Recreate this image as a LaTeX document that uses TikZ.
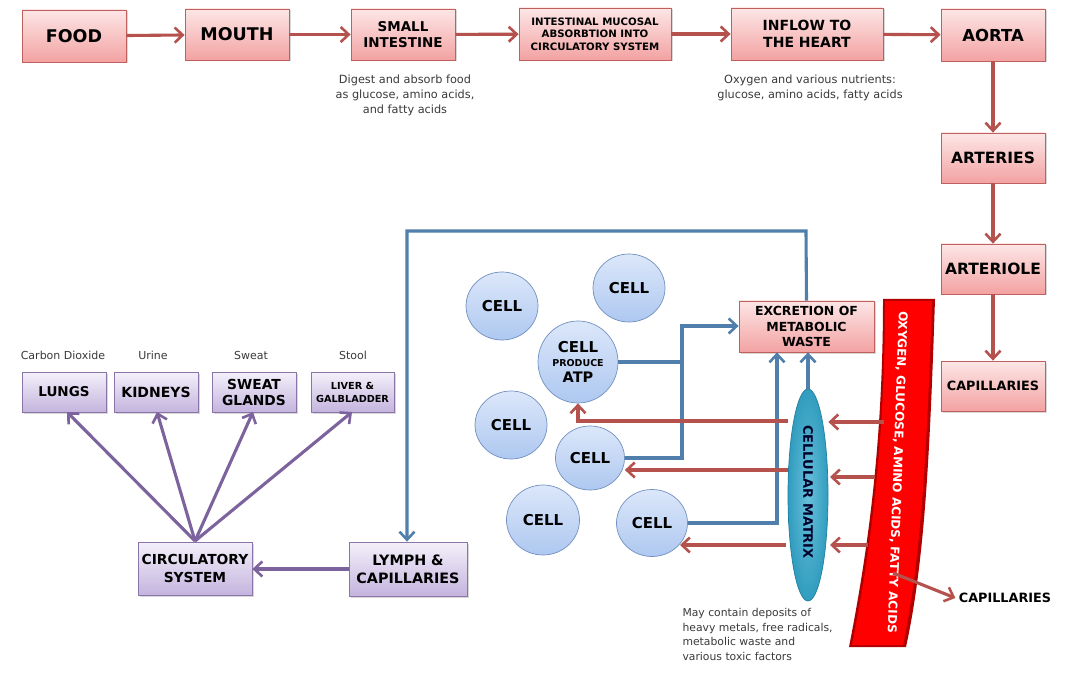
\documentclass[tikz,border=0pt]{standalone}
\usepackage{fontspec}
\setmainfont{DejaVu Sans}
\usetikzlibrary{arrows.meta,shadows,shapes.geometric}
\definecolor{pinkT}{HTML}{FDE6E6}
\definecolor{pinkB}{HTML}{F3A2A2}
\definecolor{pinkD}{HTML}{C0605C}
\definecolor{purT}{HTML}{F4F0FA}
\definecolor{purB}{HTML}{C4B4DE}
\definecolor{purD}{HTML}{8A74A8}
\definecolor{celT}{HTML}{DCE7FA}
\definecolor{celB}{HTML}{AEC8F0}
\definecolor{celD}{HTML}{7090C0}
\definecolor{redA}{HTML}{B5524E}
\definecolor{bluA}{HTML}{4F7FAA}
\definecolor{purA}{HTML}{7D639E}
\definecolor{txtG}{HTML}{3A3A3A}
\definecolor{cyanM}{HTML}{35AACF}
\definecolor{cyanD}{HTML}{1E7FA0}
\tikzset{
  pbox/.style={draw=pinkD, line width=0.8pt, top color=pinkT, bottom color=pinkB,
    drop shadow={shadow xshift=1.5pt, shadow yshift=-1.5pt, opacity=0.3},
    align=center, font=\bfseries, inner sep=2pt},
  ubox/.style={draw=purD, line width=0.8pt, top color=purT, bottom color=purB,
    drop shadow={shadow xshift=1.5pt, shadow yshift=-1.5pt, opacity=0.3},
    align=center, font=\bfseries, inner sep=2pt},
  cellnode/.style={ellipse, draw=celD, line width=0.7pt, top color=celT, bottom color=celB,
    minimum width=72pt, minimum height=68pt, font=\fontsize{15}{17}\bfseries\selectfont, inner sep=0pt, align=center},
  tip/.style={-{Straight Barb[length=8pt,width=15pt,line width=2.6pt]}},
  ra/.style={draw=redA, line width=3.1pt, tip},
  ba/.style={draw=bluA, line width=3.1pt, tip},
  bl/.style={draw=bluA, line width=3.1pt},
  ua/.style={draw=purA, line width=3.1pt, tip},
  note/.style={text=txtG, font=\fontsize{11.3}{15}\selectfont, align=center},
}
\begin{document}
\begin{tikzpicture}[x=1pt,y=-1pt]
\useasboundingbox[fill=white] (0,0) rectangle (1068,676);

% top row
\node[pbox, minimum width=104pt, minimum height=52pt, font=\fontsize{17.5}{20}\bfseries\selectfont] (food) at (74,36) {FOOD};
\node[pbox, minimum width=104pt, minimum height=51pt, font=\fontsize{17.5}{20}\bfseries\selectfont] (mouth) at (237,34.5) {MOUTH};
\node[pbox, minimum width=104pt, minimum height=51pt, font=\fontsize{13.5}{16.5}\bfseries\selectfont] (small) at (403,34.5) {SMALL\\INTESTINE};
\node[pbox, minimum width=152pt, minimum height=52pt, font=\fontsize{10.2}{12.5}\bfseries\selectfont] (mucosal) at (595,34) {INTESTINAL MUCOSAL\\ABSORBTION INTO\\CIRCULATORY SYSTEM};
\node[pbox, minimum width=152pt, minimum height=52pt, font=\fontsize{14}{17}\bfseries\selectfont] (inflow) at (807,34) {INFLOW TO\\THE HEART};
\node[pbox, minimum width=104pt, minimum height=52pt, font=\fontsize{16.5}{20}\bfseries\selectfont] (aorta) at (993,35) {AORTA};
\node[pbox, minimum width=104pt, minimum height=50pt, font=\fontsize{15.5}{18}\bfseries\selectfont] (arteries) at (993,158) {ARTERIES};
\node[pbox, minimum width=104pt, minimum height=50pt, font=\fontsize{15.5}{18}\bfseries\selectfont] (arteriole) at (993,269) {ARTERIOLE};
\node[pbox, minimum width=104pt, minimum height=50pt, font=\fontsize{12.8}{15}\bfseries\selectfont] (capbox) at (993,386) {CAPILLARIES};
\node[pbox, minimum width=135pt, minimum height=51pt, font=\fontsize{12.5}{15.5}\bfseries\selectfont] (excr) at (806.5,326.5) {EXCRETION OF\\METABOLIC\\WASTE};

\draw[ra] (food) -- (mouth);
\draw[ra] (mouth) -- (small);
\draw[ra] (small) -- (mucosal);
\draw[ra] (mucosal) -- (inflow);
\draw[ra] (inflow) -- (aorta);
\draw[ra] (aorta) -- (arteries);
\draw[ra] (arteries) -- (arteriole);
\draw[ra] (arteriole) -- (capbox);

\node[note] (n1) at (405,95) {Digest and absorb food\\as glucose, amino acids,\\and fatty acids};
\node[note] (n2) at (810,88) {Oxygen and various nutrients:\\glucose, amino acids, fatty acids};

% red vessel
\path[fill=red!70!black]
  (883,299) -- (935,299) .. controls (930,450) and (925,560) .. (906,647) -- (849,647) .. controls (866,560) and (883,450) .. (883,299) -- cycle;
\path[fill=red]
  (885,301) -- (932,301) .. controls (927,450) and (921,560) .. (903,645) -- (852,645) .. controls (869,560) and (885,450) .. (885,301) -- cycle;
\node[rotate=-92, text=white, font=\fontsize{12}{14}\bfseries\selectfont] (vtext) at (897,472) {OXYGEN, GLUCOSE, AMINO ACIDS, FATTY ACIDS};

% cellular matrix
\node[ellipse, draw=cyanD, line width=0.7pt, inner color=cyanM!75!white, outer color=cyanM!92!black,
  minimum width=40pt, minimum height=212pt, inner sep=0pt] (matrix) at (808,495) {};
\node[rotate=-90, text=black!70!blue!55!black, font=\fontsize{13}{15}\selectfont\bfseries] at (808,492) {CELLULAR MATRIX};

% cells
\node[cellnode] (c1) at (502,306) {CELL};
\node[cellnode] (c2) at (629,288) {CELL};
\node[cellnode, minimum width=80pt, minimum height=82pt] (atp) at (578,362) {CELL\\[-3pt]{\fontsize{9.5}{11}\bfseries\selectfont PRODUCE}\\[-1pt]{\fontsize{14.5}{16}\bfseries\selectfont ATP}};
\node[cellnode] (c4) at (511,425) {CELL};
\node[cellnode, minimum width=69pt, minimum height=64pt] (c5) at (590,458) {CELL};
\node[cellnode, minimum width=73pt, minimum height=70pt] (c6) at (543,520) {CELL};
\node[cellnode, minimum width=71pt, minimum height=67pt] (c7) at (652,523) {CELL};

% blue connectors
\coordinate (j1) at (682,362);
\draw[bl] (atp.east |- j1) -- (j1);
\draw[ba] (c5.east |- 0,458) -- (682,458) -- (682,326) -- (excr.west |- 0,326);
\draw[ba] (c7.east |- 0,523) -- (777,523) -- (excr.south -| 777,0);
\draw[ba] (matrix.north) -- (excr.south -| matrix.north);

% lymph / circulatory
\node[ubox, minimum width=118pt, minimum height=54pt, font=\fontsize{14.3}{18}\bfseries\selectfont] (lymph) at (408,569) {LYMPH \&\\CAPILLARIES};
\node[ubox, minimum width=114pt, minimum height=53pt, font=\fontsize{13.8}{18}\bfseries\selectfont] (circ) at (195,568.5) {CIRCULATORY\\SYSTEM};
\draw[ba] (excr.north) -- (806,231) -- (407,231) -- (lymph.north -| 407,0);
\draw[ua] (lymph.west |- 0,569) -- (circ.east |- 0,569);

\node[ubox, minimum width=84pt, minimum height=40pt, font=\fontsize{13.5}{16}\bfseries\selectfont] (lungs) at (64,392) {LUNGS};
\node[ubox, minimum width=84pt, minimum height=40pt, font=\fontsize{14}{16}\bfseries\selectfont] (kid) at (156,392) {KIDNEYS};
\node[ubox, minimum width=84pt, minimum height=40pt, font=\fontsize{13.8}{16}\bfseries\selectfont] (sweat) at (254,392) {SWEAT\\GLANDS};
\node[ubox, minimum width=83pt, minimum height=40pt, font=\fontsize{9.7}{13}\bfseries\selectfont] (liver) at (352.5,392) {LIVER \&\\GALBLADDER};
\node[note, font=\fontsize{11}{13}\selectfont] (l1) at (63,355) {Carbon Dioxide};
\node[note, font=\fontsize{11}{13}\selectfont] (l2) at (153,355) {Urine};
\node[note, font=\fontsize{11}{13}\selectfont] (l3) at (251,355) {Sweat};
\node[note, font=\fontsize{11}{13}\selectfont] (l4) at (353,355) {Stool};

\coordinate (co) at (195,541);
\draw[ua] (co) -- (67,412);
\draw[ua] (co) -- (157,412);
\draw[ua] (co) -- (253,412);
\draw[ua] (co) -- (352,412);

% red connectors from vessel
\draw[ra] (884,422) -- (matrix.east |- 0,422);
\draw[ra] (matrix.west |- 0,421) -- (578,421) -- (atp.south);
\draw[ra] (875,477) -- (830,477);
\draw[ra] (788,470) -- (c5.east |- 0,470);
\draw[ra] (868,545) -- (830,545);
\draw[ra] (786,545) -- (680,545);
\node[font=\fontsize{12.8}{15}\bfseries\selectfont] (cap2) at (1005,598) {CAPILLARIES};
\draw[ra] (893,573) -- (cap2.west);

\node[note, align=left, anchor=north west, font=\fontsize{10.8}{14.6}\selectfont] (n3) at (679,605) {May contain deposits of\\heavy metals, free radicals,\\metabolic waste and\\various toxic factors};
\end{tikzpicture}
\end{document}
